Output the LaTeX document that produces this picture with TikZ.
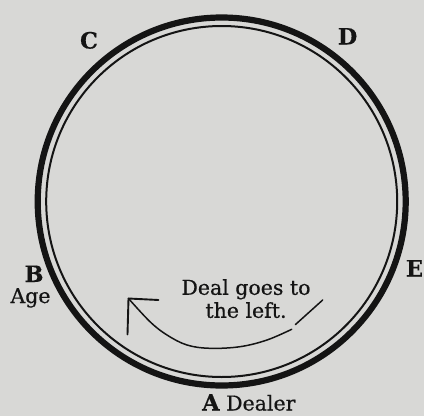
\documentclass[tikz,border=0pt]{standalone}
\usepackage{fontspec}
\setmainfont{DejaVu Serif}[FakeBold=0.6]
\newfontfamily\seatfont{DejaVu Serif Bold}[FakeBold=0.4]
\definecolor{paper}{RGB}{216,216,214}
\definecolor{ink}{RGB}{20,20,20}
\begin{document}
\begin{tikzpicture}[x=1pt,y=-1pt,
  thickring/.style={draw=ink,line width=6.2pt},
  thinring/.style={draw=ink,line width=2pt},
  seat/.style={font=\fontsize{22.5}{26}\seatfont,text=ink,inner sep=0pt,anchor=base},
  lbl/.style={font=\fontsize{20.5}{23}\selectfont,text=ink,inner sep=0pt},
  dealarrow/.style={draw=ink,line width=1.5pt,line cap=round,line join=round}]
\useasboundingbox[fill=paper] (0,0) rectangle (424,416);
\coordinate (ctr) at (221.7,201.5);
\draw[thickring] (ctr) circle[radius=184pt];
\draw[thinring] (ctr) circle[radius=175.5pt];
% seats
\node[seat] (C) at (89,48.5) {C};
\node[seat] (D) at (347.5,44.5) {D};
\node[seat] (E) at (414.5,276.5) {E};
\node[seat] (B) at (34,282) {B};
\node[lbl,anchor=base] (age) at (30.5,303) {Age};
\node[lbl,anchor=base west] (A) at (202,410.5) {{\fontsize{22.5}{26}\seatfont A} Dealer};
% note
\node[lbl,align=center,anchor=north] (note) at (246,279) {Deal goes to\\the left.};
% arrow
\coordinate (s1) at (322.7,300);
\coordinate (s2) at (295.5,324.5);
\coordinate (m1) at (291.7,329.3);
\coordinate (tip) at (128.5,298.5);
\draw[dealarrow] (s1) -- (s2);
\draw[dealarrow] plot[smooth,tension=0.6] coordinates {(m1) (267,340) (240,346.7) (210,348.3) (187,345) (167,335) (150,321.7) (tip)};
\draw[dealarrow,line width=1.9pt] (tip) ++(30,1.5) -- (tip) -- ++(-1,36);
\end{tikzpicture}
\end{document}
